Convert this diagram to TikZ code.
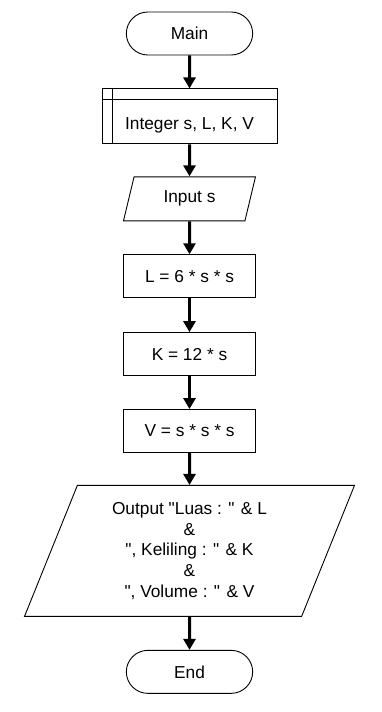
\documentclass[tikz,border=0pt]{standalone}
\usepackage{fontspec}
\setmainfont{Liberation Sans}
\usetikzlibrary{positioning, shapes.misc, shapes.geometric, arrows.meta}

\begin{document}
\begin{tikzpicture}[x=1pt, y=1pt, node distance=33pt,
    every node/.style={font=\fontsize{17.3}{20.7}\selectfont},
    terminal/.style={draw, line width=0.9pt, rounded rectangle, minimum width=133pt, minimum height=43pt},
    proses/.style={draw, line width=0.9pt, rectangle, minimum width=132pt, minimum height=43pt},
    deklarasi/.style={draw, line width=0.9pt, rectangle, minimum width=175pt, minimum height=55pt, text height=30pt, text depth=4pt},
    io/.style={draw, line width=0.9pt, trapezium, trapezium left angle=#1, trapezium right angle=180-#1, trapezium stretches body},
    alur/.style={-{Triangle[width=12pt,length=11pt]}, line width=3pt}]
                \useasboundingbox (0,0) rectangle (381,-712);
                % start
                \node[terminal] (main) at (189.5,-33.5) {Main};
                % declaration
                \node[deklarasi, below=of main] (dekl) {Integer s, L, K, V};
                \draw[line width=0.9pt] ([xshift=11pt]dekl.north west) -- ([xshift=11pt]dekl.south west);
                \draw[line width=0.9pt] ([yshift=-11pt]dekl.north west) -- ([yshift=-11pt]dekl.north east);
                % input and process
                \node[io=64.5, minimum width=132pt, minimum height=44pt, below=32pt of dekl] (input) {Input s};
                \node[proses, below=of input] (luas) {L = 6 * s * s};
                \node[proses, below=34pt of luas] (keliling) {K = 12 * s};
                \node[proses, below=of keliling] (volume) {V = s * s * s};
                % output
                \node[io=63, minimum width=330pt, minimum height=131pt, align=center, below=32pt of volume] (output)
                    {Output \textquotedbl Luas : \textquotedbl{} \& L\\\&\\\textquotedbl, Keliling : \textquotedbl{} \& K\\\&\\\textquotedbl, Volume : \textquotedbl{} \& V};
                % end
                \node[terminal, below=of output] (selesai) {End};
                % arrows
                \draw[alur] (main) -- (dekl);
                \draw[alur] (dekl) -- (input);
                \draw[alur] (input) -- (luas);
                \draw[alur] (luas) -- (keliling);
                \draw[alur] (keliling) -- (volume);
                \draw[alur] (volume) -- (output);
                \draw[alur] (output) -- (selesai);
            \end{tikzpicture}
\end{document}
